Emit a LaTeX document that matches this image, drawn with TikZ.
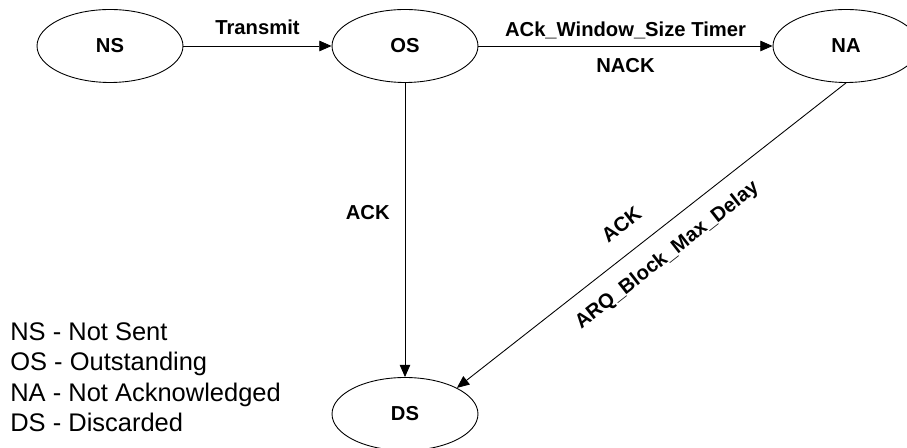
\documentclass[tikz,border=0pt]{standalone}
\usepackage{fontspec}
\setmainfont{Liberation Sans}
\usetikzlibrary{arrows.meta}
\usetikzlibrary{shapes.geometric}

\begin{document}
\begin{tikzpicture}[x=0.02cm, y=-0.02cm,
    state/.style={ellipse, draw, line width=0.5pt, minimum width=2.92cm, minimum height=1.46cm,
                  inner sep=0pt, font=\fontsize{11.5}{13}\selectfont\bfseries},
    edge/.style={line width=0.5pt, -{Triangle[length=7pt,width=6pt]}},
    lbl/.style={font=\fontsize{11.5}{13}\selectfont\bfseries}]

    \useasboundingbox (0,0) rectangle (907,448);
    \clip (0,0) rectangle (907,448);

    \node[state] (NS) at (110,46) {NS};
    \node[state] (OS) at (405,46) {OS};
    \node[state] (NA) at (846,46) {NA};
    \node[state] (DS) at (405,414) {DS};

    \draw[edge] (NS) -- node[lbl, above, inner sep=6pt] {Transmit} (OS);
    \draw[edge] (OS) -- node[lbl, above, inner sep=4pt] {ACk\_Window\_Size Timer}
                        node[lbl, below, inner sep=7pt] {NACK} (NA);
    \draw[edge] (OS) -- node[lbl, left, pos=0.44, inner sep=8.5pt] {ACK} (DS);
    \draw[edge] (NA.south) -- node[lbl, sloped, above, pos=0.535, inner sep=11pt] {ACK}
                              node[lbl, sloped, below, pos=0.5, inner sep=9pt] {ARQ\_Block\_Max\_Delay} (DS.north east);

    % legend
    \node[anchor=north west, align=left, inner sep=0pt, font=\fontsize{14.5}{17.4}\selectfont]
        (legend) at (10,322) {NS - Not Sent\\OS - Outstanding\\NA - Not Acknowledged\\DS - Discarded};

\end{tikzpicture}
\end{document}
